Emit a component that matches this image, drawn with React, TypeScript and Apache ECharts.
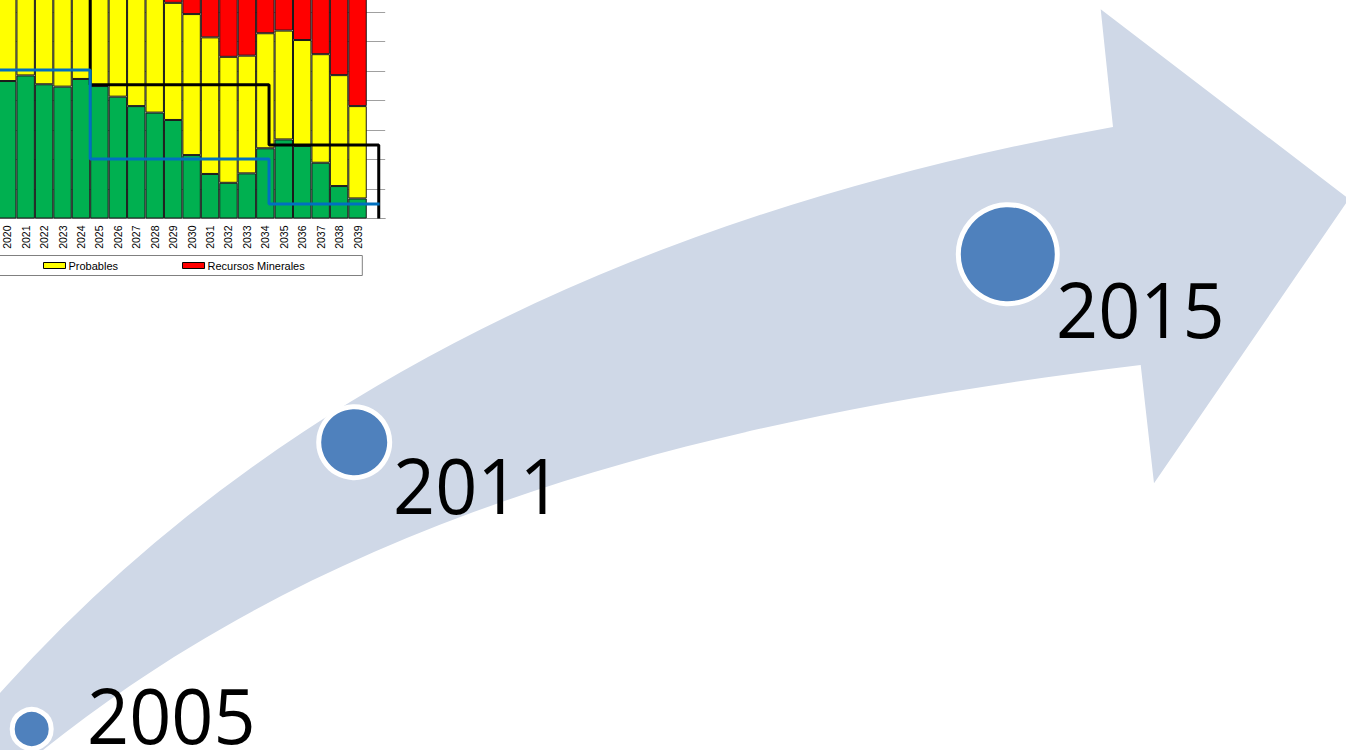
import React, { useEffect, useRef } from "react";
import * as echarts from "echarts";

// ---- data ----
const categories = [
  "2020", "2021", "2022", "2023", "2024", "2025", "2026", "2027", "2028", "2029",
  "2030", "2031", "2032", "2033", "2034", "2035", "2036", "2037", "2038", "2039", "",
];
const probadas = [46.6, 48.5, 45.5, 44.7, 47.3, 44.9, 41.3, 38.1, 35.9, 33.4, 21.5, 15.1, 12.1, 15.3, 23.8, 26.8, 24.6, 18.9, 11.0, 6.8];
const probables = [41.4, 38.5, 40.5, 40.3, 36.7, 37.1, 38.7, 39.9, 40.1, 39.7, 47.8, 46.3, 42.7, 39.9, 39.0, 36.9, 35.9, 36.8, 37.6, 31.3];
const recursos = [12, 13, 14, 15, 16, 18, 20, 22, 24, 26.9, 30.7, 38.6, 45.2, 44.8, 37.2, 36.3, 39.5, 44.3, 51.4, 61.9];
// step lines: [year, level]
const blackLine = [[2019.5, 85], [2024.5, 45.3], [2034.2, 24.9], [2040.15, 0]];
const blueLine = [[2019.5, 50.3], [2024.5, 20.2], [2034.2, 4.9], [2040.2, 4.9]];
const legendItems = ["Probables", "Recursos Minerales"];
const timelineYears = ["2005", "2011", "2015"];

const ARROW_D =
  "M -40 738 L 0 693 Q 389 257 1113 127 L 1100.7 9.3 L 1349 199 L 1154 483.3 L 1140.7 365 C 640 425 303 542 43 750 L 10 790 Z";

// the chart canvas is shifted up/left so that the top of the bar chart is cropped like the reference
const OFFX = 2;
const OFFY = 77;

export default function App() {
  const ref = useRef<HTMLDivElement>(null);
  useEffect(() => {
    if (!ref.current) return;
    try {
      echarts.graphic.registerShape("arrowBand", echarts.graphic.extendPath(ARROW_D, {}) as any);
    } catch (e) {}
    const chart = echarts.init(ref.current, null, { renderer: "svg" });
    const textEl = (t: string, x: number, y: number) => ({
      type: "text",
      x,
      y,
      scaleX: 0.97,
      z: 30,
      style: {
        text: t,
        x: 0,
        y: 0,
        font: '76px "Open Sans"',
        fontSize: 76,
        fontFamily: "Open Sans",
        fill: "#000",
        textAlign: "left",
        textVerticalAlign: "middle",
        align: "left",
        verticalAlign: "middle",
      },
    });
    const circle = (cx: number, cy: number, r: number) => ({
      type: "circle",
      z: 20,
      shape: { cx, cy, r },
      style: { fill: "#4F81BD", stroke: "#FFFFFF", lineWidth: 5 },
    });
    chart.setOption({
      animation: false,
      backgroundColor: "#fff",
      grid: { left: 0, top: 0.5, width: 387.2, height: 295, containLabel: false },
      xAxis: [
        {
          type: "category",
          data: categories,
          axisLine: { show: true, lineStyle: { color: "#9a9a9a", width: 1 } },
          axisTick: { show: false },
          axisLabel: {
            rotate: 90,
            interval: 0,
            margin: 7,
            fontSize: 10.5,
            fontFamily: "Liberation Sans",
            color: "#000",
          },
        },
        { type: "value", min: 2019.5, max: 2040.5, show: false },
      ],
      yAxis: {
        type: "value",
        min: 0,
        max: 100,
        interval: 10,
        axisLine: { show: false },
        axisTick: { show: false },
        axisLabel: { show: false },
        splitLine: { show: true, lineStyle: { color: "#a0a0a0", width: 1 } },
      },
      legend: {
        data: legendItems,
        left: 43 + OFFX,
        top: 260 + OFFY,
        padding: 0,
        itemWidth: 22,
        itemHeight: 6,
        itemGap: 64,
        icon: "rect",
        textStyle: { fontSize: 11, fontFamily: "Liberation Sans", color: "#000", padding: [0, 0, 0, -2] },
        itemStyle: { borderColor: "#000", borderWidth: 1 },
      },
      series: [
        {
          name: "Probadas",
          type: "bar",
          stack: "t",
          data: probadas,
          barCategoryGap: "0%",
          itemStyle: { color: "#00B050", borderColor: "#1a1a1a", borderWidth: 1 },
        },
        {
          name: "Probables",
          type: "bar",
          stack: "t",
          data: probables,
          barCategoryGap: "0%",
          itemStyle: { color: "#FFFF00", borderColor: "#1a1a1a", borderWidth: 1 },
        },
        {
          name: "Recursos Minerales",
          type: "bar",
          stack: "t",
          data: recursos,
          barCategoryGap: "0%",
          itemStyle: { color: "#FF0000", borderColor: "#1a1a1a", borderWidth: 1 },
        },
        {
          name: "Nivel 1",
          type: "line",
          xAxisIndex: 1,
          step: "end",
          data: blackLine,
          symbol: "none",
          z: 5,
          lineStyle: { color: "#000", width: 3 },
        },
        {
          name: "Nivel 2",
          type: "line",
          xAxisIndex: 1,
          step: "end",
          data: blueLine,
          symbol: "none",
          z: 6,
          lineStyle: { color: "#0070C0", width: 3 },
        },
      ],
      graphic: [
        {
          type: "group",
          x: OFFX,
          y: OFFY,
          children: [
            {
              type: "rect",
              z: 1,
              shape: { x: -10, y: 255.5, width: 372.3, height: 20 },
              style: { fill: "none", stroke: "#808080", lineWidth: 1 },
            },
            {
              type: "arrowBand",
              x: 0,
              y: 0,
              z: 10,
              style: { fill: "#CFD8E7" },
            },
            circle(31.7, 729, 19.5),
            circle(354.2, 442.2, 35.5),
            circle(1007.8, 254.2, 49.5),
            textEl(timelineYears[0], 87, 715),
            textEl(timelineYears[1], 393, 484.5),
            textEl(timelineYears[2], 1056, 308.7),
          ],
        },
      ],
    });
    return () => chart.dispose();
  }, []);
  return (
    <div
      ref={ref}
      style={{
        position: "fixed",
        left: -OFFX,
        top: -OFFY,
        width: 1346 + OFFX,
        height: 750 + OFFY,
        background: "#fff",
      }}
    />
  );
}
